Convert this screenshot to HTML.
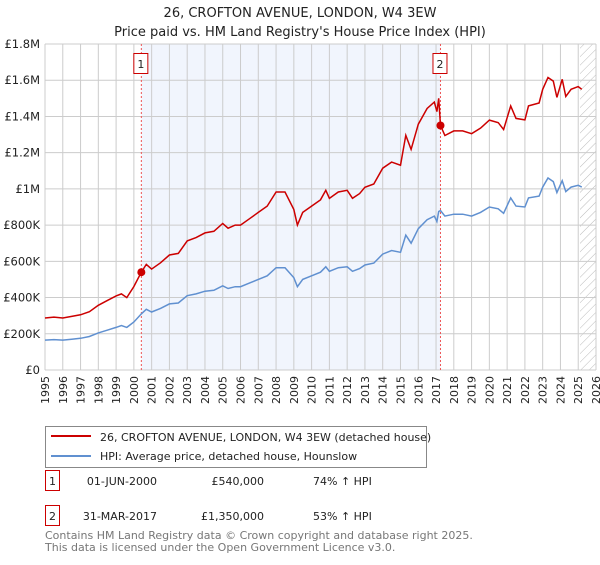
<!DOCTYPE html>
<html><head><meta charset="utf-8"><style>
body{margin:0;background:#fff;font-family:"Liberation Sans","DejaVu Sans",sans-serif;}
svg text{font-family:"DejaVu Sans","Liberation Sans",sans-serif;}
</style></head><body>
<svg id="c" width="600" height="560" xmlns="http://www.w3.org/2000/svg">
<defs><pattern id="hatch" width="6" height="6" patternUnits="userSpaceOnUse" patternTransform="rotate(45)"><line x1="0" y1="0" x2="0" y2="6" stroke="#bbb" stroke-width="1"/></pattern></defs>
<text x="300" y="17" text-anchor="middle" font-size="13" fill="#222">26, CROFTON AVENUE, LONDON, W4 3EW</text>
<text x="300" y="36" text-anchor="middle" font-size="13" fill="#222">Price paid vs. HM Land Registry's House Price Index (HPI)</text>
<g id="plot"></g>
<g>
<rect x="45.5" y="426.5" width="381" height="41" fill="#fff" stroke="#888"/>
<line x1="51" y1="436" x2="91" y2="436" stroke="#cc0000" stroke-width="2"/>
<text x="100" y="441" font-size="11" fill="#222">26, CROFTON AVENUE, LONDON, W4 3EW (detached house)</text>
<line x1="51" y1="456" x2="91" y2="456" stroke="#6090d0" stroke-width="2"/>
<text x="100" y="460" font-size="11" fill="#222">HPI: Average price, detached house, Hounslow</text>
</g>
<g>
<rect x="45.5" y="470.5" width="14" height="20" fill="#fff" stroke="#cc0000"/>
<text x="52.5" y="485" font-size="11" text-anchor="middle" fill="#222">1</text>
<text x="157" y="485" font-size="11" text-anchor="end" fill="#222">01-JUN-2000</text>
<text x="264" y="485" font-size="11" text-anchor="end" fill="#222">£540,000</text>
<text x="313" y="485" font-size="11" fill="#222">74% ↑ HPI</text>
<rect x="45.5" y="505.5" width="14" height="20" fill="#fff" stroke="#cc0000"/>
<text x="52.5" y="520" font-size="11" text-anchor="middle" fill="#222">2</text>
<text x="157" y="520" font-size="11" text-anchor="end" fill="#222">31-MAR-2017</text>
<text x="264" y="520" font-size="11" text-anchor="end" fill="#222">£1,350,000</text>
<text x="313" y="520" font-size="11" fill="#222">53% ↑ HPI</text>
</g>
<text x="45" y="539" font-size="11" fill="#777">Contains HM Land Registry data © Crown copyright and database right 2025.</text>
<text x="45" y="551" font-size="11" fill="#777">This data is licensed under the Open Government Licence v3.0.</text>
</svg>
<script>
const hpiDates=[1995.0,1995.5,1996.0,1996.5,1997.0,1997.5,1998.0,1998.5,1999.0,1999.3,1999.6,2000.0,2000.42,2000.7,2001.0,2001.5,2002.0,2002.5,2003.0,2003.5,2004.0,2004.5,2005.0,2005.3,2005.7,2006.0,2006.5,2007.0,2007.5,2008.0,2008.5,2009.0,2009.2,2009.5,2010.0,2010.5,2010.8,2011.0,2011.5,2012.0,2012.3,2012.7,2013.0,2013.5,2014.0,2014.5,2015.0,2015.3,2015.6,2016.0,2016.5,2016.9,2017.05,2017.15,2017.25,2017.5,2018.0,2018.5,2019.0,2019.5,2020.0,2020.5,2020.8,2021.2,2021.5,2022.0,2022.2,2022.8,2023.0,2023.3,2023.6,2023.8,2024.1,2024.3,2024.6,2025.0,2025.2];
const hpiValues=[165,168,165,170,175,185,205,220,235,245,235,265,310,335,320,340,365,370,410,420,435,440,465,450,460,460,480,500,520,565,565,510,460,500,520,540,570,545,565,570,545,560,580,590,640,660,650,745,700,780,830,850,820,875,880,850,860,860,850,870,900,890,865,950,905,900,950,960,1010,1060,1040,980,1045,985,1010,1020,1010];
const priceValues=[287,292,287,296,305,322,357,383,409,420,400,461,540,583,557,592,635,644,713,731,757,766,809,783,800,800,835,870,905,983,983,887,800,870,905,940,992,948,983,992,948,974,1009,1027,1114,1148,1131,1296,1218,1357,1444,1479,1427,1500,1350,1295,1320,1320,1305,1335,1380,1366,1328,1458,1389,1381,1458,1474,1550,1615,1595,1505,1605,1510,1550,1565,1550];
const saleDates=[2000.42,2017.25];
const salePrices=[540,1350];
const saleLabels=["1","2"];
const yTicks=[0,200,400,600,800,1000,1200,1400,1600,1800];
const yTickLabels=["£0","£200K","£400K","£600K","£800K","£1M","£1.2M","£1.4M","£1.6M","£1.8M"];
const xYears=[1995,1996,1997,1998,1999,2000,2001,2002,2003,2004,2005,2006,2007,2008,2009,2010,2011,2012,2013,2014,2015,2016,2017,2018,2019,2020,2021,2022,2023,2024,2025,2026];
const X0=45,X1=596,Y0=370,Y1=44;
const xs=d=>X0+(d-1995)/31*(X1-X0);
const ys=v=>Y0-v/1800*(Y0-Y1);
const NS="http://www.w3.org/2000/svg";
const g=document.getElementById('plot');
function mk(t,a){const e=document.createElementNS(NS,t);for(const k in a)e.setAttribute(k,a[k]);g.appendChild(e);return e;}
let e=mk('rect',{x:X0,y:Y1,width:X1-X0,height:Y0-Y1,fill:'#fff'});


e=mk('rect',{x:xs(saleDates[0]),y:Y1,width:xs(saleDates[1])-xs(saleDates[0]),height:Y0-Y1,fill:'#eef3fc',opacity:0.8});


e=mk('rect',{x:xs(2025.1),y:Y1,width:X1-xs(2025.1),height:Y0-Y1,fill:'url(#hatch)'});


xYears.forEach(yr=>{
  const x=xs(yr);
  let l=mk('line',{x1:x,x2:x,y1:Y1,y2:Y0,stroke:'#ccc','stroke-width':1});
  
  
  let t=mk('text',{x:0,y:0,'font-size':11,fill:'#222','text-anchor':'end',transform:`translate(${x+4},${Y0+6}) rotate(-90)`});
  t.textContent=yr;
  
  
});
yTicks.forEach((v,i)=>{
  const y=ys(v);
  let l=mk('line',{x1:X0,x2:X1,y1:y,y2:y,stroke:'#ccc','stroke-width':1});
  
  
  let t=mk('text',{x:X0-5,y:y+4,'font-size':11.5,fill:'#222','text-anchor':'end'});
  t.textContent=yTickLabels[i];
  
  
});
saleDates.forEach((d,i)=>{
  const x=xs(d);
  let l=mk('line',{x1:x,x2:x,y1:Y1,y2:Y0,stroke:'#e55','stroke-width':1,'stroke-dasharray':'2,2'});
  
  
  let r=mk('rect',{x:x-7.5,y:53.5,width:14,height:20,fill:'#fff',stroke:'#cc0000'});
  
  
  let t=mk('text',{x:x-0.5,y:68,'font-size':11,fill:'#222','text-anchor':'middle'});
  t.textContent=saleLabels[i];
  
  
});
const pts=(vals)=>hpiDates.map((d,i)=>xs(d).toFixed(1)+','+ys(vals[i]).toFixed(1)).join(' ');
e=mk('polyline',{points:pts(hpiValues),fill:'none',stroke:'#6090d0','stroke-width':1.5});


e=mk('polyline',{points:pts(priceValues),fill:'none',stroke:'#cc0000','stroke-width':1.5});


saleDates.forEach((d,i)=>{
  let c=mk('circle',{cx:xs(d),cy:ys(salePrices[i]),r:4,fill:'#cc0000'});
  
  
});
</script>
</body></html>
